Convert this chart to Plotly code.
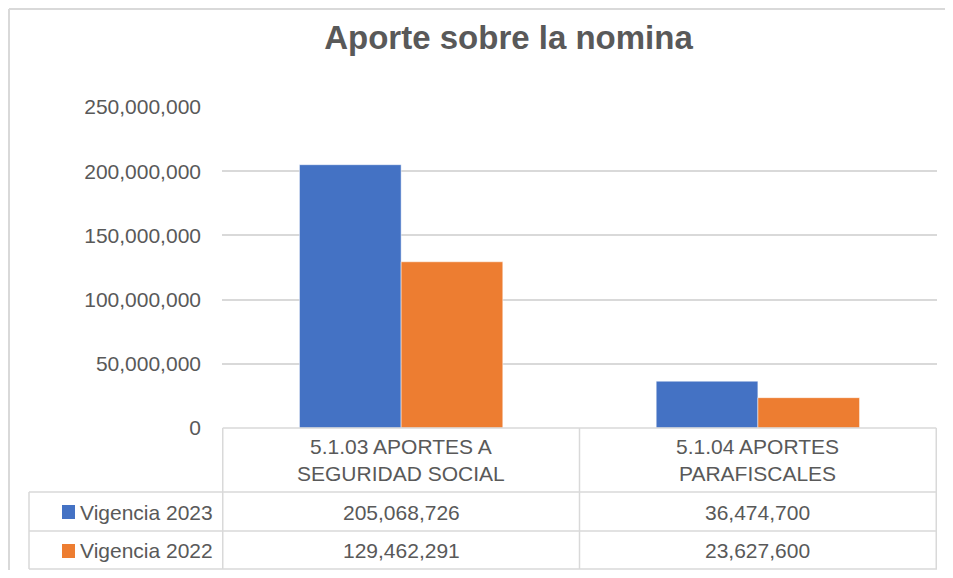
import plotly.graph_objects as go

title_text = "Aporte sobre la nomina"
categories = ["5.1.03 APORTES A<br>SEGURIDAD SOCIAL", "5.1.04 APORTES<br>PARAFISCALES"]
series_names = ["Vigencia 2023", "Vigencia 2022"]
vigencia_2023 = [205068726, 36474700]
vigencia_2022 = [129462291, 23627600]
colors = ["#4472C4", "#ED7D31"]
y_ticks = [0, 50000000, 100000000, 150000000, 200000000, 250000000]

FONT = "Liberation Sans, Arial, sans-serif"
TXT = "#595959"
GRID = "#D9D9D9"

OFF = 8  # browser body margin
W, H = 953 - 2 * OFF, 578 - 2 * OFF
# plot area in page pixels
L, R, T, B = 222, 937, 107, 428


def px(x):
    return (x - L) / (R - L)


def py(y):
    return (B - y) / (B - T)


fig = go.Figure()
for name, vals, col in zip(series_names, [vigencia_2023, vigencia_2022], colors):
    fig.add_trace(go.Bar(x=categories, y=vals, name=name,
                         marker=dict(color=col, line=dict(width=0.5, color="white"))))

shapes = []
# outer chart border (top and left only are visible)
shapes.append(dict(type="line", xref="paper", yref="paper", x0=px(9), x1=px(1000), y0=py(9), y1=py(9),
                   line=dict(color=GRID, width=2), layer="below"))
shapes.append(dict(type="line", xref="paper", yref="paper", x0=px(9), x1=px(9), y0=py(9), y1=py(620),
                   line=dict(color=GRID, width=2), layer="below"))
# table horizontal lines
shapes.append(dict(type="line", xref="x", yref="paper", x0=-0.5, x1=1.5, y0=0, y1=0,
                   line=dict(color=GRID, width=1.5)))
for yy in [492, 531, 569]:
    shapes.append(dict(type="line", xref="paper", yref="paper", x0=px(29), x1=1, y0=py(yy), y1=py(yy),
                       line=dict(color=GRID, width=1.5)))
# table vertical lines
shapes.append(dict(type="line", xref="paper", yref="paper", x0=px(29), x1=px(29), y0=py(492), y1=py(569),
                   line=dict(color=GRID, width=1.5)))
for xv in [-0.5, 0.5, 1.5]:
    shapes.append(dict(type="line", xref="x", yref="paper", x0=xv, x1=xv, y0=0, y1=py(569),
                       line=dict(color=GRID, width=1.5)))

annotations = []
row_centers = [512, 550]
key_tops = [505, 544]
for i, cat in enumerate(categories):
    annotations.append(dict(xref="x", yref="paper", x=i, y=py(460), text=cat, showarrow=False,
                            yanchor="middle", font=dict(family=FONT, size=21, color=TXT), align="center"))
for r, (name, vals, col) in enumerate(zip(series_names, [vigencia_2023, vigencia_2022], colors)):
    shapes.append(dict(type="rect", xref="paper", yref="paper", x0=px(62), x1=px(75),
                       y0=py(key_tops[r]), y1=py(key_tops[r] + 14), fillcolor=col, line=dict(width=0)))
    annotations.append(dict(xref="paper", yref="paper", x=px(78), y=py(row_centers[r]), text=name,
                            showarrow=False, xanchor="left", yanchor="middle",
                            font=dict(family=FONT, size=21, color=TXT)))
    for i, v in enumerate(vals):
        annotations.append(dict(xref="x", yref="paper", x=i, y=py(row_centers[r]), text=f"{v:,}",
                                showarrow=False, yanchor="middle",
                                font=dict(family=FONT, size=21, color=TXT)))

fig.update_layout(
    width=W, height=H,
    margin=dict(l=L - OFF, r=W - (R - OFF), t=T - OFF, b=H - (B - OFF)),
    paper_bgcolor="white", plot_bgcolor="white",
    barmode="group", bargap=0.43, bargroupgap=0,
    showlegend=False,
    title=dict(text=f"<b>{title_text}</b>", x=(508.5 - OFF) / W, xanchor="center",
               y=1 - (37 - OFF) / H, yanchor="middle",
               xref="container", yref="container",
               font=dict(family=FONT, size=33, color=TXT)),
    shapes=shapes, annotations=annotations,
    font=dict(family=FONT, color=TXT),
)
fig.update_xaxes(showticklabels=False, showgrid=False, showline=False, zeroline=False)
fig.update_yaxes(range=[0, 250000000], tickvals=y_ticks, tickformat=",", showgrid=True, gridcolor=GRID,
                 gridwidth=1.5, zeroline=False, showline=False, ticklabelstandoff=20,
                 tickfont=dict(family=FONT, size=21, color=TXT))

fig.write_html("out.html")
